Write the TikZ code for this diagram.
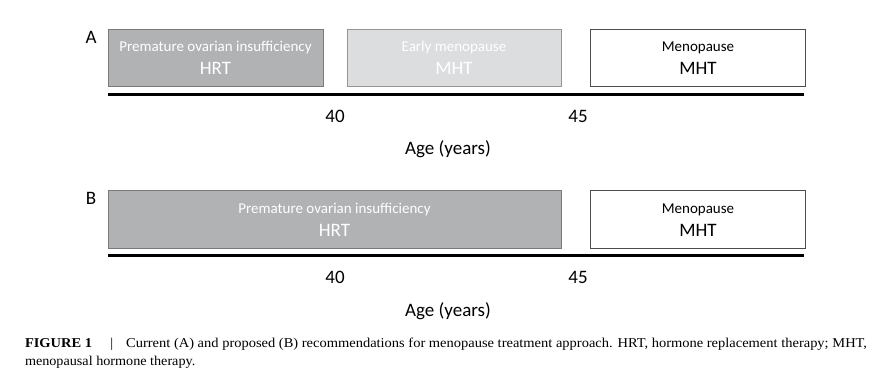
\documentclass[tikz,border=0pt]{standalone}
\usepackage{fontspec}
\usepackage{graphicx}
\setmainfont{Carlito}
\newfontfamily\capfont{Liberation Serif}
\definecolor{poigray}{HTML}{B1B2B4}
\definecolor{earlygray}{HTML}{DCDDDF}
\definecolor{edgegray}{HTML}{7A7A7A}

\begin{document}
\begin{tikzpicture}[x=1pt,y=-1pt,
  every node/.style={inner sep=0pt,outer sep=0pt},
  stage/.style={draw=edgegray,line width=1pt,anchor=north west},
  small/.style={font=\fontsize{15}{15}\selectfont,anchor=base},
  big/.style={font=\fontsize{19}{19}\selectfont,anchor=base},
  axis/.style={line width=3pt,black},
  captext/.style={anchor=base west,font=\capfont\fontsize{13.5}{13.5}\selectfont}]
\useasboundingbox (0,0) rectangle (888,379);
% panel A
\node[big] (labA) at (91,44) {A};
\node[stage,fill=poigray,minimum width=215pt,minimum height=57.5pt] (poiA) at (108,29.3) {};
\node[stage,fill=earlygray,draw=edgegray!80,minimum width=214.5pt,minimum height=57.5pt] (earlyA) at (347,29.3) {};
\node[stage,fill=white,draw=black!70,minimum width=214.5pt,minimum height=57.5pt] (menoA) at (590.7,29.3) {};
\node[small,white] (poiAt) at (215.5,52) {Premature ovarian insufficiency};
\node[big,white] (poiAs) at (215.5,75) {HRT};
\node[small,white] (earlyAt) at (454,52) {Early menopause};
\node[big,white] (earlyAs) at (454,75) {MHT};
\node[small] (menoAt) at (698,52) {Menopause};
\node[big] (menoAs) at (698,75) {MHT};
\coordinate (axAl) at (108,94.5);
\coordinate (axAr) at (804,94.5);
\draw[axis] (axAl) -- (axAr);
\node[big] (fortyA) at (335,123) {40};
\node[big] (fiftyA) at (578,123) {45};
\node[big] (ageA) at (448,155) {Age (years)};
% panel B
\node[big] (labB) at (91,205) {B};
\node[stage,fill=poigray,minimum width=453pt,minimum height=57.5pt] (poiB) at (108,190.7) {};
\node[stage,fill=white,draw=black!70,minimum width=214.5pt,minimum height=57.5pt] (menoB) at (590.7,190.7) {};
\node[small,white] (poiBt) at (334.5,213.5) {Premature ovarian insufficiency};
\node[big,white] (poiBs) at (334.5,236.5) {HRT};
\node[small] (menoBt) at (698,213.5) {Menopause};
\node[big] (menoBs) at (698,236.5) {MHT};
\coordinate (axBl) at (108,255.5);
\coordinate (axBr) at (804,255.5);
\draw[axis] (axBl) -- (axBr);
\node[big] (fortyB) at (335,283) {40};
\node[big] (fiftyB) at (578,283) {45};
\node[big] (ageB) at (448,316) {Age (years)};
% caption
\node[captext] (cap1) at (25,347)
  {\resizebox{842pt}{\height}{\textbf{FIGURE 1}\hspace{17pt}|\hspace{12pt}Current (A) and proposed (B) recommendations for menopause treatment approach. HRT, hormone replacement therapy; MHT,}};
\node[captext] (cap2) at (25,365)
  {\scalebox{1.05}[1]{menopausal hormone therapy.}};
\end{tikzpicture}
\end{document}
